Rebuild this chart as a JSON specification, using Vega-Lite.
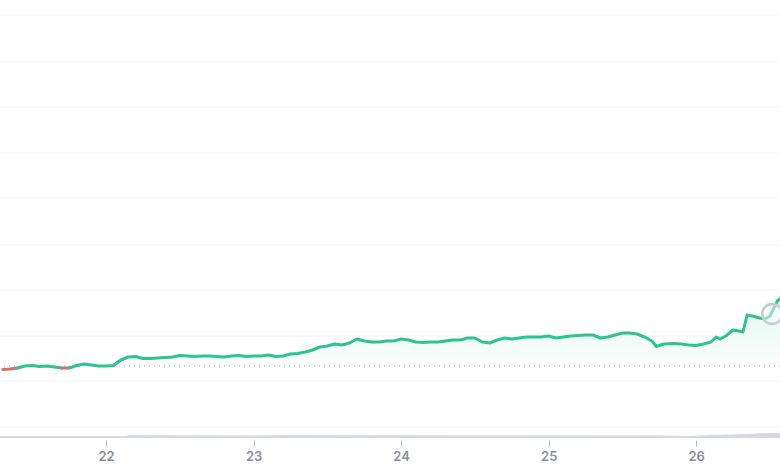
{"$schema":"https://vega.github.io/schema/vega-lite/v6.json","width":780,"height":438,"autosize":{"type":"none"},"padding":{"left":0,"top":0,"right":0,"bottom":32},"background":"white","config":{"view":{"stroke":null},"font":"Inter"},
"datasets":{"price":[
{"d":21.3,"p":68.5,"s":"a","c":"down"},{"d":21.35,"p":69,"s":"a","c":"down"},{"d":21.4,"p":70,"s":"a","c":"down"},
{"d":21.4,"p":70,"s":"b","c":"up"},{"d":21.45,"p":72,"s":"b","c":"up"},{"d":21.5,"p":72.5,"s":"b","c":"up"},{"d":21.55,"p":71.5,"s":"b","c":"up"},{"d":21.6,"p":72,"s":"b","c":"up"},{"d":21.65,"p":71,"s":"b","c":"up"},{"d":21.7,"p":70,"s":"b","c":"up"},
{"d":21.7,"p":70,"s":"c","c":"down"},{"d":21.75,"p":70,"s":"c","c":"down"},
{"d":21.75,"p":70,"s":"d","c":"up"},{"d":21.8,"p":72.5,"s":"d","c":"up"},{"d":21.85,"p":74,"s":"d","c":"up"},{"d":21.9,"p":73,"s":"d","c":"up"},{"d":21.95,"p":72,"s":"d","c":"up"},{"d":22,"p":72,"s":"d","c":"up"},{"d":22.05,"p":72.5,"s":"d","c":"up"},{"d":22.1,"p":78,"s":"d","c":"up"},{"d":22.15,"p":81,"s":"d","c":"up"},{"d":22.2,"p":81.5,"s":"d","c":"up"},{"d":22.25,"p":79.5,"s":"d","c":"up"},{"d":22.3,"p":79.5,"s":"d","c":"up"},{"d":22.35,"p":80,"s":"d","c":"up"},{"d":22.4,"p":80.5,"s":"d","c":"up"},{"d":22.45,"p":81,"s":"d","c":"up"},{"d":22.5,"p":82.5,"s":"d","c":"up"},{"d":22.55,"p":82,"s":"d","c":"up"},{"d":22.6,"p":81.5,"s":"d","c":"up"},{"d":22.65,"p":82,"s":"d","c":"up"},{"d":22.7,"p":82,"s":"d","c":"up"},{"d":22.75,"p":81.5,"s":"d","c":"up"},{"d":22.8,"p":81,"s":"d","c":"up"},{"d":22.85,"p":82,"s":"d","c":"up"},{"d":22.9,"p":82.5,"s":"d","c":"up"},{"d":22.95,"p":81.5,"s":"d","c":"up"},{"d":23,"p":82,"s":"d","c":"up"},{"d":23.05,"p":82,"s":"d","c":"up"},{"d":23.1,"p":83,"s":"d","c":"up"},{"d":23.15,"p":81.5,"s":"d","c":"up"},{"d":23.2,"p":82,"s":"d","c":"up"},{"d":23.25,"p":84,"s":"d","c":"up"},{"d":23.3,"p":84.5,"s":"d","c":"up"},{"d":23.35,"p":86,"s":"d","c":"up"},{"d":23.4,"p":88,"s":"d","c":"up"},{"d":23.45,"p":91,"s":"d","c":"up"},{"d":23.5,"p":92,"s":"d","c":"up"},{"d":23.55,"p":94,"s":"d","c":"up"},{"d":23.6,"p":93,"s":"d","c":"up"},{"d":23.65,"p":95,"s":"d","c":"up"},{"d":23.7,"p":99,"s":"d","c":"up"},{"d":23.75,"p":97,"s":"d","c":"up"},{"d":23.8,"p":96,"s":"d","c":"up"},{"d":23.85,"p":96,"s":"d","c":"up"},{"d":23.9,"p":97,"s":"d","c":"up"},{"d":23.95,"p":97,"s":"d","c":"up"},{"d":24,"p":99,"s":"d","c":"up"},{"d":24.05,"p":98,"s":"d","c":"up"},{"d":24.1,"p":96,"s":"d","c":"up"},{"d":24.15,"p":95.5,"s":"d","c":"up"},{"d":24.2,"p":96,"s":"d","c":"up"},{"d":24.25,"p":96,"s":"d","c":"up"},{"d":24.3,"p":97,"s":"d","c":"up"},{"d":24.35,"p":98,"s":"d","c":"up"},{"d":24.4,"p":98,"s":"d","c":"up"},{"d":24.45,"p":100,"s":"d","c":"up"},{"d":24.5,"p":100,"s":"d","c":"up"},{"d":24.55,"p":96,"s":"d","c":"up"},{"d":24.6,"p":95,"s":"d","c":"up"},{"d":24.65,"p":98,"s":"d","c":"up"},{"d":24.7,"p":100,"s":"d","c":"up"},{"d":24.75,"p":99,"s":"d","c":"up"},{"d":24.8,"p":100,"s":"d","c":"up"},{"d":24.85,"p":101,"s":"d","c":"up"},{"d":24.9,"p":101,"s":"d","c":"up"},{"d":24.95,"p":101,"s":"d","c":"up"},{"d":25,"p":102,"s":"d","c":"up"},{"d":25.05,"p":100,"s":"d","c":"up"},{"d":25.1,"p":101,"s":"d","c":"up"},{"d":25.15,"p":102,"s":"d","c":"up"},{"d":25.2,"p":102.5,"s":"d","c":"up"},{"d":25.25,"p":103,"s":"d","c":"up"},{"d":25.3,"p":103,"s":"d","c":"up"},{"d":25.35,"p":100,"s":"d","c":"up"},{"d":25.4,"p":101,"s":"d","c":"up"},{"d":25.45,"p":103,"s":"d","c":"up"},{"d":25.5,"p":105,"s":"d","c":"up"},{"d":25.55,"p":105,"s":"d","c":"up"},{"d":25.6,"p":104,"s":"d","c":"up"},{"d":25.65,"p":101,"s":"d","c":"up"},{"d":25.7,"p":97,"s":"d","c":"up"},{"d":25.73,"p":91.5,"s":"d","c":"up"},{"d":25.78,"p":94,"s":"d","c":"up"},{"d":25.85,"p":94.5,"s":"d","c":"up"},{"d":25.9,"p":94,"s":"d","c":"up"},{"d":25.95,"p":93,"s":"d","c":"up"},{"d":26,"p":92.5,"s":"d","c":"up"},{"d":26.05,"p":94,"s":"d","c":"up"},{"d":26.1,"p":96,"s":"d","c":"up"},{"d":26.135,"p":101,"s":"d","c":"up"},{"d":26.163,"p":99,"s":"d","c":"up"},{"d":26.2,"p":102,"s":"d","c":"up"},{"d":26.25,"p":108,"s":"d","c":"up"},{"d":26.29,"p":107,"s":"d","c":"up"},{"d":26.317,"p":106,"s":"d","c":"up"},{"d":26.345,"p":123,"s":"d","c":"up"},{"d":26.38,"p":122,"s":"d","c":"up"},{"d":26.43,"p":120,"s":"d","c":"up"},{"d":26.465,"p":119,"s":"d","c":"up"},{"d":26.5,"p":122,"s":"d","c":"up"},{"d":26.52,"p":128,"s":"d","c":"up"},{"d":26.55,"p":137,"s":"d","c":"up"},{"d":26.568,"p":139,"s":"d","c":"up"}],
"volume":[{"d":21.281,"v":2},{"d":22.14,"v":2},{"d":22.15,"v":3},{"d":23.0,"v":2.5},{"d":23.2,"v":3},{"d":25.75,"v":2.5},{"d":25.95,"v":2},{"d":26.1,"v":3},{"d":26.35,"v":4},{"d":26.45,"v":5},{"d":26.568,"v":5}],
"grid":[{"g":11},{"g":57},{"g":102},{"g":148},{"g":193},{"g":240},{"g":285},{"g":331},{"g":376},{"g":423}],
"base":[{"b":72}],
"marker":[{"d":26.515,"p":124}]},
"resolve":{"scale":{"color":"independent"}},
"layer":[
{"data":{"name":"grid"},"mark":{"type":"rule","color":"#f3f4f7","strokeWidth":1},"encoding":{"y":{"field":"g","type":"quantitative","scale":{"domain":[0,438],"nice":false,"zero":false},"axis":null}}},
{"data":{"name":"price"},"transform":[{"filter":"datum.c==='up'"}],"mark":{"type":"area","clip":true,"color":{"gradient":"linear","x1":0,"y1":0,"x2":0,"y2":1,"stops":[{"offset":0,"color":"#e3f8ef"},{"offset":1,"color":"#fcfefd"}]}},"encoding":{"x":{"field":"d","type":"quantitative","scale":{"domain":[21.281,26.568],"nice":false,"zero":false},"axis":{"values":[22,23,24,25,26],"format":"d","grid":false,"domain":false,"tickColor":"#b4b8c6","tickSize":6,"offset":2,"labelColor":"#8a8fa3","labelFont":"Inter","labelFontSize":13,"labelFontWeight":600,"labelPadding":4,"title":null}},"y":{"field":"p","type":"quantitative","scale":{"domain":[0,438],"nice":false,"zero":false},"axis":null},"y2":{"datum":72}}},
{"data":{"name":"base"},"mark":{"type":"rule","color":"#a9afbe","strokeWidth":1,"strokeDash":[1,4]},"encoding":{"y":{"field":"b","type":"quantitative","scale":{"domain":[0,438],"nice":false,"zero":false},"axis":null}}},
{"data":{"name":"volume"},"mark":{"type":"area","clip":true,"color":"#d6d9e4"},"encoding":{"x":{"field":"d","type":"quantitative","scale":{"domain":[21.281,26.568],"nice":false,"zero":false}},"y":{"field":"v","type":"quantitative","scale":{"domain":[0,438],"nice":false,"zero":false},"axis":null}}},
{"data":{"name":"price"},"mark":{"type":"line","clip":true,"strokeWidth":3,"strokeJoin":"round","strokeCap":"round"},"encoding":{"x":{"field":"d","type":"quantitative","scale":{"domain":[21.281,26.568],"nice":false,"zero":false}},"y":{"field":"p","type":"quantitative","scale":{"domain":[0,438],"nice":false,"zero":false},"axis":null},"detail":{"field":"s"},"color":{"field":"c","type":"nominal","scale":{"domain":["up","down"],"range":["#2fc48f","#d0716b"]},"legend":null}}},
{"data":{"name":"marker"},"mark":{"type":"point","shape":"circle","filled":false,"fill":"white","fillOpacity":0.45,"stroke":"#c6cad6","strokeWidth":2.5,"size":400},"encoding":{"x":{"field":"d","type":"quantitative","scale":{"domain":[21.281,26.568],"nice":false,"zero":false}},"y":{"field":"p","type":"quantitative","scale":{"domain":[0,438],"nice":false,"zero":false},"axis":null}}}
]}
